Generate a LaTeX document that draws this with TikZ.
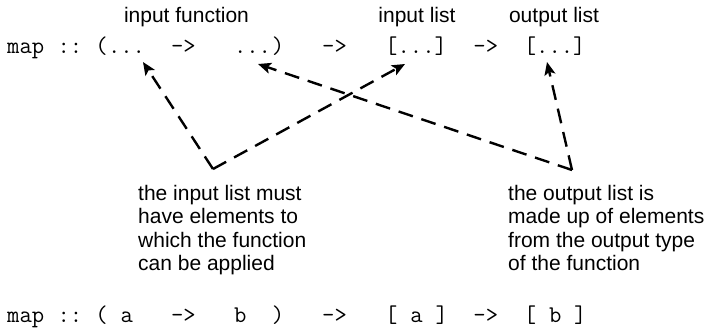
\documentclass[tikz,border=0pt]{standalone}
\usepackage{fontspec}
\newfontfamily\labfont{Liberation Sans}
\usetikzlibrary{arrows.meta}

% one monospaced token placed at a character cell of a code line
\newcommand{\mtok}[4]{\node[mono] (#1) at ({7+12.6*#2},#3) {#4};}

\tikzset{
  mono/.style={font=\ttfamily\fontsize{24}{24}\selectfont, anchor=base west, inner sep=0pt},
  lab/.style={font=\labfont\fontsize{21}{23.3}\selectfont, anchor=base, inner sep=0pt},
  note/.style={font=\labfont\fontsize{21}{23.3}\selectfont, anchor=north west, align=left, inner sep=0pt},
  pointer/.style={line width=2.4pt, dash pattern=on 15pt off 9pt,
    -{Stealth[length=13pt,width=11pt,inset=3pt]}}
}

\begin{document}
\begin{tikzpicture}[x=1pt,y=-1pt]
\useasboundingbox (0,0) rectangle (710,330);

% labels above the general signature
\node[lab] (lfun) at (186.5,22) {input function};
\node[lab] (lin)  at (417,22)   {input list};
\node[lab] (lout) at (554,22)   {output list};

% general signature
\mtok{tmap}{0}{53}{map}
\mtok{tcol}{4}{53}{::}
\mtok{topen}{7}{53}{(}
\mtok{targ}{8}{53}{...}
\mtok{tar1}{13}{53}{->}
\mtok{tres}{18}{53}{...}
\mtok{tclose}{21}{53}{)}
\mtok{tar2}{25}{53}{->}
\mtok{tin}{30}{53}{[...]}
\mtok{tar3}{37}{53}{->}
\mtok{tout}{41}{53}{[...]}

% concrete signature
\mtok{bmap}{0}{322}{map}
\mtok{bcol}{4}{322}{::}
\mtok{bopen}{7}{322}{(}
\mtok{ba}{9}{322}{a}
\mtok{bar1}{13}{322}{->}
\mtok{bb}{18}{322}{b}
\mtok{bclose}{21}{322}{)}
\mtok{bar2}{25}{322}{->}
\mtok{bl1}{30}{322}{[}
\mtok{bla}{32}{322}{a}
\mtok{br1}{34}{322}{]}
\mtok{bar3}{37}{322}{->}
\mtok{bl2}{41}{322}{[}
\mtok{blb}{43}{322}{b}
\mtok{br2}{45}{322}{]}

% explanations
\node[note] (nin) at (138,185) {the input list must\\have elements to\\which the function\\can be applied};
\node[note] (nout) at (508,185) {the output list is\\made up of elements\\from the output type\\of the function};

% pointer corners and targets
\coordinate (vL) at (213,169);
\coordinate (vR) at (572,170);
\coordinate (pArg) at (143,62);
\coordinate (pIn)  at (405,64);
\coordinate (pRes) at (258,64);
\coordinate (pOut) at (547,62);

\draw[pointer] (vL) -- (pArg);
\draw[pointer] (vL) -- (pIn);
\draw[pointer] (vR) -- (pRes);
\draw[pointer] (vR) -- (pOut);
\end{tikzpicture}
\end{document}
